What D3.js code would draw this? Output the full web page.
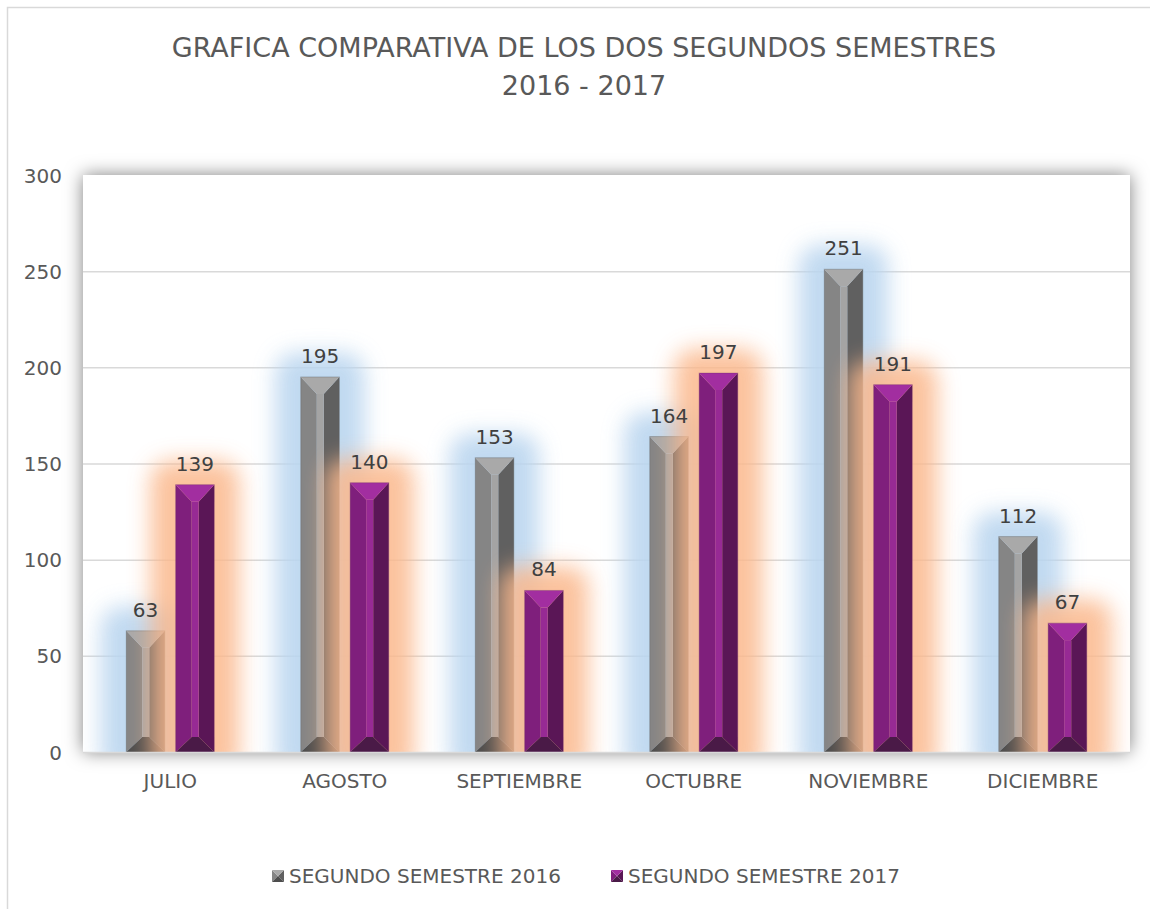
<!DOCTYPE html>
<html>
<head>
<meta charset="utf-8">
<script src="https://cdn.jsdelivr.net/npm/d3@7"></script>
<style>
  body { margin: 0; background: #fff; }
  svg text { font-family: "DejaVu Sans", sans-serif; fill: #595959; }
</style>
</head>
<body>
<div id="chart"></div>
<script>
const months = ["JULIO", "AGOSTO", "SEPTIEMBRE", "OCTUBRE", "NOVIEMBRE", "DICIEMBRE"];
const seriesNames = ["SEGUNDO SEMESTRE 2016", "SEGUNDO SEMESTRE 2017"];
const values2016 = [63, 195, 153, 164, 251, 112];
const values2017 = [139, 140, 84, 197, 191, 67];
const yTicks = [0, 50, 100, 150, 200, 250, 300];

const W = 1150, H = 909;
const plot = { left: 83, right: 1130, top: 175, bottom: 752 };

// colours for bevelled faces: top, left, middle, right, bottom
const palettes = [
  { top: "#a9a9a9", left: "#858585", mid: "#a4a4a4", right: "#606060", bottom: "#4d4d4d", glow: "#bad5ef" },
  { top: "#a22ea0", left: "#7f1f7c", mid: "#972a94", right: "#5a1656", bottom: "#4a1a47", glow: "#fbb88c" }
];

const svg = d3.select("#chart").append("svg")
  .attr("width", W)
  .attr("height", H);

const defs = svg.append("defs");

const shadow = defs.append("filter").attr("id", "plotShadow")
  .attr("x", "-5%").attr("y", "-8%").attr("width", "110%").attr("height", "116%");
shadow.append("feDropShadow")
  .attr("dx", 0).attr("dy", 0)
  .attr("stdDeviation", 9)
  .attr("flood-color", "#000")
  .attr("flood-opacity", 0.5);

const glow = defs.append("filter").attr("id", "glow")
  .attr("x", "-100%").attr("y", "-50%").attr("width", "300%").attr("height", "200%");
glow.append("feGaussianBlur").attr("stdDeviation", 11);

defs.append("clipPath").attr("id", "plotClip")
  .append("rect")
  .attr("x", plot.left).attr("y", plot.top)
  .attr("width", plot.right - plot.left)
  .attr("height", plot.bottom - plot.top);

// chart border
svg.append("rect")
  .attr("x", 7.5).attr("y", 7.5)
  .attr("width", W + 20).attr("height", H + 20)
  .attr("fill", "#fff")
  .attr("stroke", "#d9d9d9")
  .attr("stroke-width", 1.5);

// title
const title = svg.append("text")
  .attr("text-anchor", "middle")
  .style("font-size", "27px");
title.append("tspan").attr("x", 584).attr("y", 57).text("GRAFICA COMPARATIVA DE LOS DOS SEGUNDOS SEMESTRES");
title.append("tspan").attr("x", 584).attr("y", 95).text("2016 - 2017");

// scales
const x0 = d3.scaleBand()
  .domain(months)
  .range([plot.left, plot.right])
  .paddingInner(0.496)
  .paddingOuter(0.248);

const x1 = d3.scaleBand()
  .domain([0, 1])
  .range([0, x0.bandwidth()])
  .paddingInner(0.22);

const y = d3.scaleLinear()
  .domain([0, 300])
  .range([plot.bottom, plot.top]);

// plot area with shadow
svg.append("rect")
  .attr("x", plot.left).attr("y", plot.top)
  .attr("width", plot.right - plot.left)
  .attr("height", plot.bottom - plot.top)
  .attr("fill", "#fff")
  .attr("filter", "url(#plotShadow)");

// grid
svg.append("g")
  .selectAll("line")
  .data(yTicks.filter(d => d > 0 && d < 300))
  .join("line")
  .attr("x1", plot.left).attr("x2", plot.right)
  .attr("y1", d => y(d) + 0.5).attr("y2", d => y(d) + 0.5)
  .attr("stroke", "#d9d9d9")
  .attr("stroke-width", 1.5);

// y axis labels
const yAxis = d3.axisLeft(y).tickValues(yTicks).tickSize(0).tickPadding(21);
const yG = svg.append("g")
  .attr("transform", `translate(${plot.left},0)`)
  .call(yAxis);
yG.select(".domain").remove();
yG.selectAll("text").style("font-size", "20px").attr("fill", "#595959").attr("dy", "0.35em");

// x axis labels
const xAxis = d3.axisBottom(x0).tickSize(0).tickPadding(22);
const xG = svg.append("g")
  .attr("transform", `translate(0,${plot.bottom})`)
  .call(xAxis);
xG.select(".domain").remove();
xG.selectAll("text").style("font-size", "20px").attr("fill", "#595959");

const rows = months.map((m, i) => ({ month: m, vals: [values2016[i], values2017[i]] }));

function bevel(g, xa, xb, ya, yb, pal, dTop, dBot, inA, inB) {
  const ia = xa + inA, ib = xa + inB;
  const faces = [
    { c: pal.left, p: [[xa, ya], [ia, ya + dTop], [ia, yb - dBot], [xa, yb]] },
    { c: pal.right, p: [[xb, ya], [ib, ya + dTop], [ib, yb - dBot], [xb, yb]] },
    { c: pal.mid, p: [[ia, ya + dTop], [ib, ya + dTop], [ib, yb - dBot], [ia, yb - dBot]] },
    { c: pal.top, p: [[xa, ya], [xb, ya], [ib, ya + dTop], [ia, ya + dTop]] },
    { c: pal.bottom, p: [[xa, yb], [ia, yb - dBot], [ib, yb - dBot], [xb, yb]] }
  ];
  g.selectAll("polygon.f")
    .data(faces)
    .join("polygon")
    .attr("class", "f")
    .attr("points", f => f.p.map(p => p.join(",")).join(" "))
    .attr("fill", f => f.c);
}

const barsLayer = svg.append("g").attr("clip-path", "url(#plotClip)");

[0, 1].forEach(s => {
  const pal = palettes[s];
  // glow behind this series
  barsLayer.append("g")
    .selectAll("rect")
    .data(rows)
    .join("rect")
    .attr("x", d => x0(d.month) + x1(s) - 25)
    .attr("y", d => y(d.vals[s]) - 24)
    .attr("width", x1.bandwidth() + 50)
    .attr("height", d => y(0) - y(d.vals[s]) + 48)
    .attr("rx", 20)
    .attr("fill", pal.glow)
    .attr("opacity", s === 0 ? 0.9 : 0.85)
    .attr("filter", "url(#glow)");

  // bevelled bars
  barsLayer.append("g")
    .selectAll("g")
    .data(rows)
    .join("g")
    .each(function (d) {
      const xa = x0(d.month) + x1(s);
      const xb = xa + x1.bandwidth();
      const h = y(0) - y(d.vals[s]);
      const dT = Math.min(17, h / 2), dB = Math.min(15, h / 2);
      bevel(d3.select(this), xa, xb, y(d.vals[s]), y(0), pal, dT, dB, 16, 23);
      d3.select(this).append("rect")
        .attr("x", xa).attr("y", y(d.vals[s]))
        .attr("width", xb - xa).attr("height", h)
        .attr("fill", "none")
        .attr("stroke", s === 0 ? "#5a5a5a" : "#6a2a68")
        .attr("stroke-opacity", 0.35)
        .attr("stroke-width", 1);
    });
});

// baseline
svg.append("line")
  .attr("x1", plot.left).attr("x2", plot.right)
  .attr("y1", plot.bottom + 0.5).attr("y2", plot.bottom + 0.5)
  .attr("stroke", "#d9d9d9")
  .attr("stroke-width", 1.5);

// data labels
[0, 1].forEach(s => {
  svg.append("g")
    .selectAll("text")
    .data(rows)
    .join("text")
    .attr("x", d => x0(d.month) + x1(s) + x1.bandwidth() / 2)
    .attr("y", d => y(d.vals[s]) - 14)
    .attr("text-anchor", "middle")
    .style("font-size", "20px")
    .style("fill", "#404040")
    .text(d => d.vals[s]);
});

// legend
const legendX = [272, 611];
const legend = svg.append("g");
seriesNames.forEach((name, s) => {
  const g = legend.append("g");
  bevel(g, legendX[s], legendX[s] + 12, 870, 882, palettes[s], 6, 6, 6, 6);
  legend.append("text")
    .attr("x", legendX[s] + 17)
    .attr("y", 883)
    .style("font-size", "20px")
    .text(name);
});
</script>
</body>
</html>
